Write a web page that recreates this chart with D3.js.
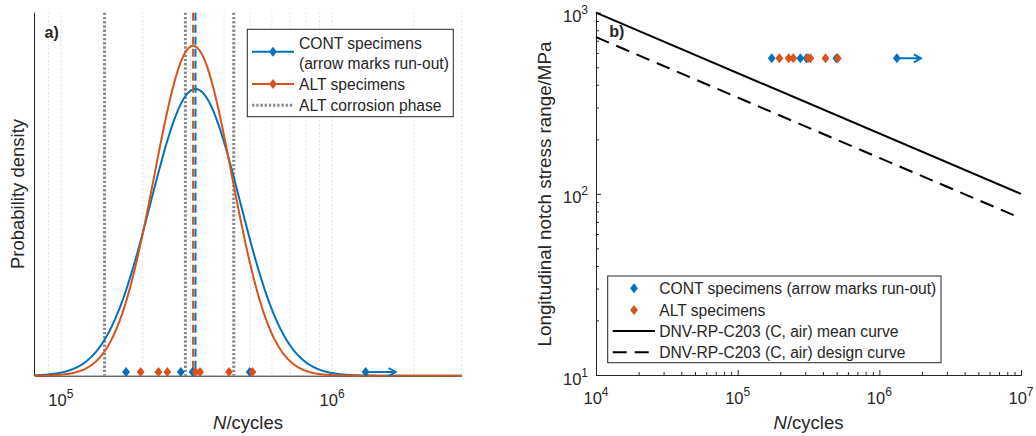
<!DOCTYPE html>
<html>
<head>
<meta charset="utf-8">
<script src="https://cdn.jsdelivr.net/npm/d3@7"></script>
<style>
  body { margin: 0; background: #fff; }
  svg { display: block; }
  text { font-family: "Liberation Sans", Arial, Helvetica, sans-serif; fill: #262626; }
</style>
</head>
<body>
<svg id="chart" width="1036" height="436"></svg>
<script>
// ---- Specimen fatigue lives (cycles) ----
const contCycles = [1.74e5, 2.77e5, 3.06e5, 4.97e5, 1.33e6];
const contRunOut = [false, false, false, false, true];
const altCycles = [1.97e5, 2.29e5, 2.47e5, 3.14e5, 3.26e5, 4.17e5, 5.09e5];

// ---- Cycle counts bounding the ALT corrosion phases ----
const corrosionCycles = [1.45e5, 2.88e5, 4.34e5];

// ---- Log-normal fits, parameters of log10(N) ----
const fitNames = ["CONT", "ALT"];
const fitMeanLog10 = [5.4965, 5.4877];
const fitSdLog10 = [0.1645, 0.143];

// ---- Applied longitudinal notch stress range (MPa) ----
const testStressRange = 560;

// ---- DNV-RP-C203 (C, air) S-N curves ----
const snCycles = [1e4, 1e7];
const snMeanStress = [1000, 100];
const snDesignStress = [733, 73.3];

// ---- Tick values ----
const leftXTicks = [1e5, 1e6];
const rightXTicks = [1e4, 1e5, 1e6, 1e7];
const rightYTicks = [10, 100, 1000];

const BLUE = "#0072BD", ORANGE = "#D95319", AXIS = "#262626";
const svg = d3.select("#chart");
const diamond = "M0,-5L3.9,0L0,5L-3.9,0Z";
const LABEL_FS = "18.5px", LEGEND_FS = "15.6px";

function powLabel(sel, v, anchor) {
  const t = sel.append("text").attr("text-anchor", anchor).style("font-size", "16.5px");
  t.append("tspan").text("10");
  t.append("tspan").attr("dy", -8).style("font-size", "12px").text(Math.round(Math.log10(v)));
  return t;
}

function arrow(g, x, y, len, color) {
  g.append("path")
    .attr("d", `M${x},${y}H${x + len}M${x + len - 7},${y - 4}L${x + len},${y}L${x + len - 7},${y + 4}`)
    .attr("fill", "none").attr("stroke", color).attr("stroke-width", 2);
}

// =================== Panel a) probability density ===================
{
  const L = 34.5, R = 461.5, T = 12.7, B = 375.7;
  const x = d3.scaleLog().domain([8e4, 3e6]).range([L, R]);
  const normPdf = (z, m, s) => Math.exp(-0.5 * ((z - m) / s) ** 2) / (s * Math.sqrt(2 * Math.PI));
  const y = d3.scaleLinear().domain([0, 3.07]).range([B, T]);
  const g = svg.append("g");

  // dotted grid at every decade subdivision
  g.append("g").selectAll("line").data(x.ticks().filter(v => v > 8.1e4))
    .join("line")
    .attr("x1", d => x(d)).attr("x2", d => x(d)).attr("y1", T).attr("y2", B)
    .attr("stroke", "#c4c4c4").attr("stroke-width", 1).attr("stroke-dasharray", "1,3");

  // axes
  g.append("g").attr("transform", `translate(0,${B})`)
    .call(d3.axisBottom(x).tickValues([]).tickSizeOuter(0))
    .call(s => s.select(".domain").attr("stroke", AXIS));
  g.append("line").attr("x1", L).attr("x2", L).attr("y1", T).attr("y2", B).attr("stroke", AXIS);

  leftXTicks.forEach(v => powLabel(g, v, "middle").attr("x", x(v)).attr("y", 406));

  // corrosion phase markers
  g.append("g").selectAll("line").data(corrosionCycles).join("line")
    .attr("x1", d => x(d)).attr("x2", d => x(d)).attr("y1", T).attr("y2", B)
    .attr("stroke", "#8c8c8c").attr("stroke-width", 3).attr("stroke-dasharray", "2.4,1.8");

  // fitted densities
  const [lo, hi] = x.domain().map(Math.log10);
  const zs = d3.range(0, 401).map(i => lo + (hi - lo) * i / 400);
  const colors = [BLUE, ORANGE];
  fitNames.forEach((n, i) => {
    const pts = zs.map(z => [x(10 ** z), y(normPdf(z, fitMeanLog10[i], fitSdLog10[i]))]);
    g.append("path").attr("d", d3.line()(pts)).attr("fill", "none")
      .attr("stroke", colors[i]).attr("stroke-width", 2);
  });
  // median lines
  [1, 0].forEach(i => {
    g.append("line").attr("x1", x(10 ** fitMeanLog10[i])).attr("x2", x(10 ** fitMeanLog10[i]))
      .attr("y1", T).attr("y2", B).attr("stroke", colors[i]).attr("stroke-width", 2)
      .attr("stroke-dasharray", "8,4");
  });

  // specimens along the baseline
  const my = 372;
  contCycles.forEach((c, i) => {
    if (contRunOut[i]) arrow(g, x(c), my, 30, BLUE);
  });
  g.append("g").selectAll("path").data(contCycles).join("path")
    .attr("d", diamond).attr("transform", d => `translate(${x(d)},${my})`).attr("fill", BLUE);
  g.append("g").selectAll("path").data(altCycles).join("path")
    .attr("d", diamond).attr("transform", d => `translate(${x(d)},${my})`).attr("fill", ORANGE);

  g.append("text").attr("x", 44.5).attr("y", 38).style("font-size", "16px")
    .style("font-weight", "bold").text("a)");

  // legend
  const lg = g.append("g");
  lg.append("rect").attr("x", 247.3).attr("y", 29.3).attr("width", 206).attr("height", 87.4)
    .attr("fill", "#fff").attr("stroke", AXIS).attr("stroke-width", 1);
  const sx0 = 252, sx1 = 294, tx = 299;
  [[BLUE, 51.7], [ORANGE, 84]].forEach(([c, yy]) => {
    lg.append("line").attr("x1", sx0).attr("x2", sx1).attr("y1", yy).attr("y2", yy)
      .attr("stroke", c).attr("stroke-width", 2);
    lg.append("path").attr("d", diamond).attr("transform", `translate(${(sx0 + sx1) / 2},${yy})`).attr("fill", c);
  });
  lg.append("line").attr("x1", sx0).attr("x2", sx1).attr("y1", 105.3).attr("y2", 105.3)
    .attr("stroke", "#8c8c8c").attr("stroke-width", 3).attr("stroke-dasharray", "2.4,1.8");
  [["CONT specimens", 43.3], ["(arrow marks run-out)", 63.3], ["ALT specimens", 84], ["ALT corrosion phase", 105.3]]
    .forEach(([t, yy]) => lg.append("text").attr("x", tx).attr("y", yy + 5.5).style("font-size", LEGEND_FS).text(t));

  // axis titles
  const xt = g.append("text").attr("x", (L + R) / 2).attr("y", 429).attr("text-anchor", "middle").style("font-size", LABEL_FS);
  xt.append("tspan").style("font-style", "italic").text("N");
  xt.append("tspan").text("/cycles");
  g.append("text").attr("transform", `translate(23.5,194) rotate(-90)`).attr("text-anchor", "middle")
    .style("font-size", LABEL_FS).text("Probability density");
}

// =================== Panel b) S-N diagram ===================
{
  const L = 596, R = 1021, T = 12.7, B = 375;
  const x = d3.scaleLog().domain([1e4, 1e7]).range([L, R]);
  const y = d3.scaleLog().domain([10, 1000]).range([B, T]);
  const g = svg.append("g");

  // axes with inward ticks
  const minorX = x.ticks().filter(v => !rightXTicks.includes(v));
  const minorY = y.ticks().filter(v => !rightYTicks.includes(v));
  const styleAxis = s => { s.selectAll("line").attr("stroke", AXIS); s.select(".domain").attr("stroke", AXIS); };
  g.append("g").attr("transform", `translate(0,${B})`)
    .call(d3.axisBottom(x).tickValues(minorX).tickSize(-3).tickSizeOuter(0).tickFormat(() => "")).call(styleAxis);
  g.append("g").attr("transform", `translate(0,${B})`)
    .call(d3.axisBottom(x).tickValues(rightXTicks).tickSize(-5).tickSizeOuter(0).tickFormat(() => "")).call(styleAxis);
  g.append("g").attr("transform", `translate(${L},0)`)
    .call(d3.axisLeft(y).tickValues(minorY).tickSize(-3).tickSizeOuter(0).tickFormat(() => "")).call(styleAxis);
  g.append("g").attr("transform", `translate(${L},0)`)
    .call(d3.axisLeft(y).tickValues(rightYTicks).tickSize(-5).tickSizeOuter(0).tickFormat(() => "")).call(styleAxis);

  rightXTicks.forEach(v => powLabel(g, v, "middle").attr("x", x(v)).attr("y", 404));
  rightYTicks.forEach(v => powLabel(g, v, "end").attr("x", 588).attr("y", y(v) + 9.5));

  // S-N curves
  const line = d3.line().x(d => x(d[0])).y(d => y(d[1]));
  g.append("path").attr("d", line(snCycles.map((n, i) => [n, snMeanStress[i]])))
    .attr("fill", "none").attr("stroke", "#000").attr("stroke-width", 2);
  g.append("path").attr("d", line(snCycles.map((n, i) => [n, snDesignStress[i]])))
    .attr("fill", "none").attr("stroke", "#000").attr("stroke-width", 2).attr("stroke-dasharray", "14,8");

  // specimens
  const my = y(testStressRange);
  contCycles.forEach((c, i) => { if (contRunOut[i]) arrow(g, x(c), my, 24, BLUE); });
  g.append("g").selectAll("path").data(contCycles).join("path")
    .attr("d", diamond).attr("transform", d => `translate(${x(d)},${my})`).attr("fill", BLUE);
  g.append("g").selectAll("path").data(altCycles).join("path")
    .attr("d", diamond).attr("transform", d => `translate(${x(d)},${my})`).attr("fill", ORANGE);

  g.append("text").attr("x", 609.3).attr("y", 37).style("font-size", "16px")
    .style("font-weight", "bold").text("b)");

  // legend
  const lg = g.append("g");
  lg.append("rect").attr("x", 607.7).attr("y", 276).attr("width", 333.3).attr("height", 86.7)
    .attr("fill", "#fff").attr("stroke", AXIS).attr("stroke-width", 1);
  const sx0 = 612.7, sx1 = 655, tx = 659.3;
  lg.append("path").attr("d", diamond).attr("transform", `translate(634,288.3)`).attr("fill", BLUE);
  lg.append("path").attr("d", diamond).attr("transform", `translate(634,310)`).attr("fill", ORANGE);
  lg.append("line").attr("x1", sx0).attr("x2", sx1).attr("y1", 331).attr("y2", 331)
    .attr("stroke", "#000").attr("stroke-width", 2);
  lg.append("line").attr("x1", sx0).attr("x2", sx1).attr("y1", 352.3).attr("y2", 352.3)
    .attr("stroke", "#000").attr("stroke-width", 2).attr("stroke-dasharray", "14,8");
  [["CONT specimens (arrow marks run-out)", 288.3], ["ALT specimens", 310],
   ["DNV-RP-C203 (C, air) mean curve", 331], ["DNV-RP-C203 (C, air) design curve", 352.3]]
    .forEach(([t, yy]) => lg.append("text").attr("x", tx).attr("y", yy + 5.5).style("font-size", LEGEND_FS).text(t));

  const xt = g.append("text").attr("x", (L + R) / 2).attr("y", 429).attr("text-anchor", "middle").style("font-size", LABEL_FS);
  xt.append("tspan").style("font-style", "italic").text("N");
  xt.append("tspan").text("/cycles");
  g.append("text").attr("transform", `translate(551,194) rotate(-90)`).attr("text-anchor", "middle")
    .style("font-size", "18.8px").text("Longitudinal notch stress range/MPa");
}
</script>
</body>
</html>
